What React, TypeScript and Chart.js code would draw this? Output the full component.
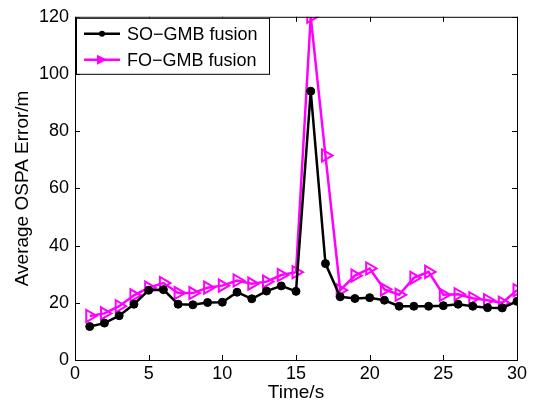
import React, { useEffect, useRef } from "react";
import { Chart, registerables } from "chart.js";
Chart.register(...registerables);

const timeSteps = [1,2,3,4,5,6,7,8,9,10,11,12,13,14,15,16,17,18,19,20,21,22,23,24,25,26,27,28,29,30];
const soGmb = [11.7,12.9,15.5,19.5,24.4,24.6,19.5,19.3,20.1,20.2,23.7,21.4,24.1,25.9,24.0,94,33.7,22.1,21.5,21.8,20.9,18.8,18.8,18.8,19.0,19.5,18.8,18.3,18.2,20.5];
const foGmb = [15.4,16.3,18.8,22.6,25.3,26.9,23.4,23.4,25.3,26.0,27.8,26.7,27.4,29.7,30.7,120,71.5,24.4,29.5,32.0,24.7,22.8,28.7,30.8,22.8,23.0,21.6,20.9,20.0,24.4];
const seriesNames = ["SO\u2212GMB fusion", "FO\u2212GMB fusion"];
const xTicks = [0,5,10,15,20,25,30];
const yTicks = [0,20,40,60,80,100,120];

const FONT = "Liberation Sans, Arial, sans-serif";

const framePlugin = {
  id: "frame",
  afterDraw(chart: any) {
    const { ctx, chartArea: a, scales } = chart;
    ctx.save();
    ctx.strokeStyle = "#000";
    ctx.lineWidth = 1;
    ctx.strokeRect(a.left + 0.5, a.top + 0.5, a.right - a.left, a.bottom - a.top);
    const tl = 5;
    ctx.beginPath();
    for (const v of xTicks) {
      const x = Math.round(scales.x.getPixelForValue(v)) + 0.5;
      ctx.moveTo(x, a.bottom); ctx.lineTo(x, a.bottom - tl);
      ctx.moveTo(x, a.top); ctx.lineTo(x, a.top + tl);
    }
    for (const v of yTicks) {
      const y = Math.round(scales.y.getPixelForValue(v)) + 0.5;
      ctx.moveTo(a.left, y); ctx.lineTo(a.left + tl, y);
      ctx.moveTo(a.right, y); ctx.lineTo(a.right - tl, y);
    }
    ctx.stroke();
    // legend
    const lx = a.left + 1, ly = a.top + 1, lw = 193, lh = 56;
    ctx.fillStyle = "#fff";
    ctx.fillRect(lx, ly, lw, lh);
    ctx.strokeRect(lx + 0.5, ly + 0.5, lw, lh);
    ctx.font = "18px " + FONT;
    ctx.textBaseline = "middle";
    const rows = [ly + 16, ly + 42];
    // row 1
    ctx.strokeStyle = "#000"; ctx.lineWidth = 2.5;
    ctx.beginPath(); ctx.moveTo(lx + 8, rows[0]); ctx.lineTo(lx + 44, rows[0]); ctx.stroke();
    ctx.fillStyle = "#000";
    ctx.beginPath(); ctx.arc(lx + 26, rows[0], 3, 0, Math.PI * 2); ctx.fill();
    ctx.fillText(seriesNames[0], lx + 51, rows[0] + 1);
    // row 2
    ctx.strokeStyle = "#ff00ff";
    ctx.beginPath(); ctx.moveTo(lx + 8, rows[1]); ctx.lineTo(lx + 44, rows[1]); ctx.stroke();
    ctx.fillStyle = "#ff00ff";
    ctx.beginPath(); ctx.moveTo(lx + 21, rows[1] - 5); ctx.lineTo(lx + 31, rows[1]); ctx.lineTo(lx + 21, rows[1] + 5); ctx.closePath(); ctx.fill();
    ctx.fillStyle = "#000";
    ctx.fillText(seriesNames[1], lx + 51, rows[1] + 1);
    ctx.restore();
  },
};

export default function App() {
  const ref = useRef<HTMLCanvasElement>(null);
  useEffect(() => {
    const chart = new Chart(ref.current!, {
      type: "line",
      data: {
        datasets: [
          {
            label: seriesNames[0],
            data: timeSteps.map((t, i) => ({ x: t, y: soGmb[i] })),
            borderColor: "#000",
            backgroundColor: "#000",
            borderWidth: 2.5,
            pointRadius: 4,
            pointBorderWidth: 1,
            pointStyle: "circle",
          },
          {
            label: seriesNames[1],
            data: timeSteps.map((t, i) => ({ x: t, y: foGmb[i] })),
            borderColor: "#ff00ff",
            backgroundColor: "rgba(255,255,255,0)",
            borderWidth: 2.5,
            pointRadius: 7,
            pointBorderWidth: 2,
            pointStyle: "triangle",
            pointRotation: 90,
          },
        ],
      },
      options: {
        animation: false,
        responsive: false,
        layout: { padding: { top: 12, right: 19, left: 0, bottom: 0 } },
        plugins: { legend: { display: false }, tooltip: { enabled: false } },
        scales: {
          x: {
            type: "linear",
            min: 0, max: 30,
            afterBuildTicks: (s: any) => { s.ticks = xTicks.map((v) => ({ value: v })); },
            afterFit: (s: any) => { s.height = 44; },
            grid: { display: false, drawTicks: false },
            border: { display: false },
            ticks: { color: "#000", font: { family: FONT, size: 18 }, padding: 3, maxRotation: 0 },
            title: { display: true, text: "Time/s", color: "#000", font: { family: FONT, size: 19 }, padding: { top: 0, bottom: 0 } },
          },
          y: {
            min: 0, max: 120,
            afterBuildTicks: (s: any) => { s.ticks = yTicks.map((v) => ({ value: v })); },
            afterFit: (s: any) => { s.width = 75; },
            grid: { display: false, drawTicks: false },
            border: { display: false },
            ticks: { color: "#000", font: { family: FONT, size: 18 }, padding: 6 },
            title: { display: true, text: "Average OSPA Error/m", color: "#000", font: { family: FONT, size: 19 }, padding: { top: 11, bottom: 0 } },
          },
        },
      },
      plugins: [framePlugin],
    } as any);
    return () => chart.destroy();
  }, []);
  return (
    <div style={{ position: "absolute", left: 0, top: 0, width: 536, height: 404, background: "#fff" }}>
      <canvas ref={ref} width={536} height={404} style={{ width: 536, height: 404 }} />
    </div>
  );
}
